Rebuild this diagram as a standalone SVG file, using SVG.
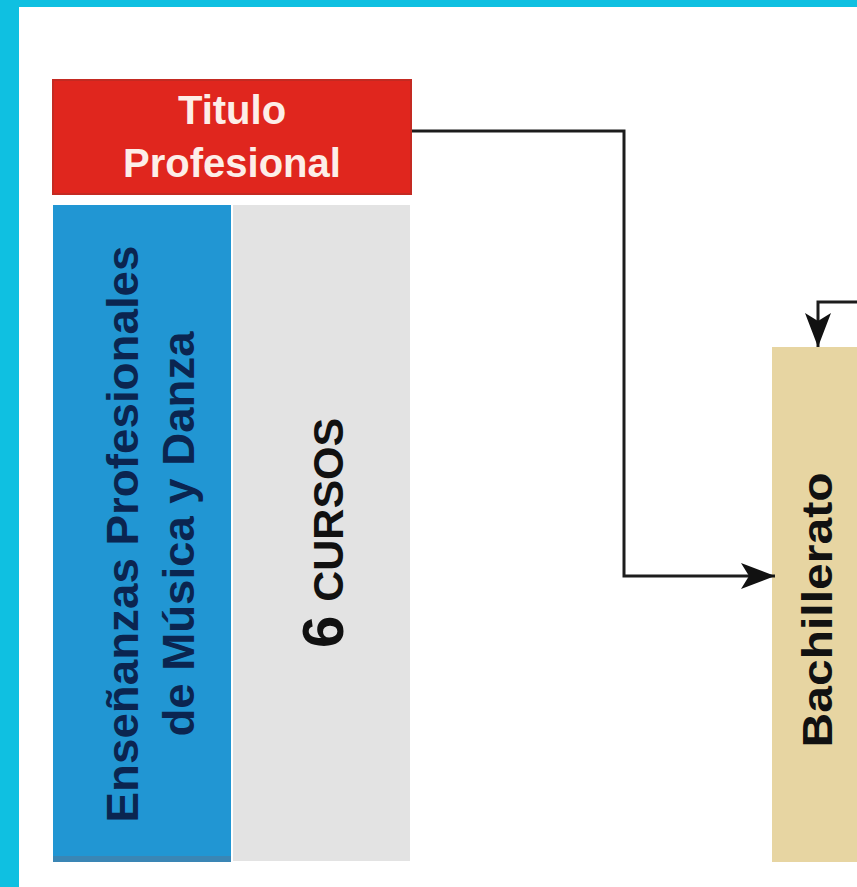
<svg xmlns="http://www.w3.org/2000/svg" width="857" height="887" viewBox="0 0 857 887">
<style>
.t{font-family:"Liberation Sans",Arial,sans-serif;font-weight:bold}
.wire{fill:none;stroke:#1c1c1c;stroke-width:3}
</style>
<defs>
<marker id="ah" markerUnits="userSpaceOnUse" markerWidth="36" markerHeight="26" refX="34" refY="13" orient="auto">
<path d="M0,0 L34,13 L0,26 L8,13 Z" fill="#111"/>
</marker>
</defs>
<rect x="0" y="0" width="857" height="887" fill="#ffffff"/>
<rect x="0" y="0" width="857" height="7" fill="#0fc0e1"/>
<rect x="0" y="0" width="19" height="887" fill="#0fc0e1"/>
<g id="titulo">
<rect x="53" y="80" width="358" height="114" fill="#e0261e" stroke="#c42a22" stroke-width="2"/>
<text class="t" x="232" y="124" font-size="40" fill="#fdeee8" text-anchor="middle">Titulo</text>
<text class="t" x="232" y="177" font-size="40" fill="#fdeee8" text-anchor="middle">Profesional</text>
</g>
<g id="ensenanzas">
<rect x="53" y="205" width="178" height="657" fill="#2196d3"/>
<rect x="53" y="856" width="178" height="6" fill="#3a86b5"/>
<text class="t" font-size="44" fill="#0b2550" text-anchor="middle" transform="translate(138,534) rotate(-90)" textLength="577" lengthAdjust="spacingAndGlyphs">Enseñanzas Profesionales</text>
<text class="t" font-size="44" fill="#0b2550" text-anchor="middle" transform="translate(194,534) rotate(-90)" textLength="405" lengthAdjust="spacingAndGlyphs">de Música y Danza</text>
</g>
<g id="cursos">
<rect x="233" y="205" width="177" height="656" fill="#e3e3e3"/>
<text class="t" fill="#111" transform="translate(343,648) rotate(-90)"><tspan font-size="58">6</tspan><tspan font-size="43" dx="14">CURSOS</tspan></text>
</g>
<g id="bachillerato">
<rect x="772" y="347" width="90" height="515" fill="#e7d5a2"/>
<text class="t" font-size="42" fill="#111" text-anchor="middle" transform="translate(832,610) rotate(-90)" textLength="275" lengthAdjust="spacingAndGlyphs">Bachillerato</text>
</g>
<g id="connectors">
<path class="wire" d="M412,131 H624 V576 H775" marker-end="url(#ah)"/>
<path class="wire" d="M857,302 H818 V347" marker-end="url(#ah)"/>
</g>
</svg>
